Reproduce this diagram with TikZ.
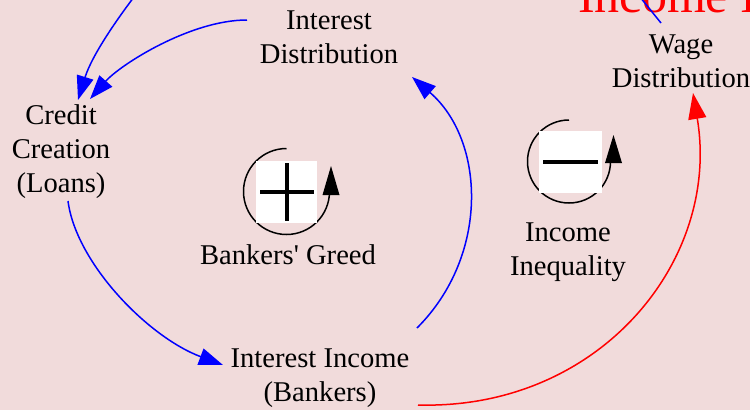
\documentclass[tikz,border=0pt]{standalone}
\usepackage{fontspec}
\setmainfont{Liberation Serif}
\usetikzlibrary{arrows.meta}
\definecolor{cbg}{RGB}{241,219,219}
\definecolor{cblue}{RGB}{0,0,255}
\definecolor{cred}{RGB}{255,0,0}
\tikzset{cld/.style={x=1pt,y=-1pt},
  var/.style={font=\fontsize{28.6}{34}\selectfont,align=center,inner sep=2pt},
  lnk/.style={cblue,line width=1.5pt,-{Triangle[length=24pt,width=17pt]}},
  loopsym/.style={line width=1.5pt}}

\begin{document}
\begin{tikzpicture}[cld]
    \useasboundingbox (0,0) rectangle (750,410);
    \clip (0,0) rectangle (750,410);
    \fill[cbg] (0,0) rectangle (750,410); % background
    \node[cred,font=\fontsize{50}{58}\selectfont,anchor=base west,inner sep=0pt] (title) at (578,12) {Income I}; % cut-off title
    \node[var] (idist) at (329,37.5) {Interest\\Distribution};
    \node[var] (credit) at (61,152) {Credit\\Creation\\(Loans)};
    \node[var] (greed) at (288,255) {Bankers\textquotesingle{} Greed};
    \node[var] (iincome) at (320,378) {Interest Income\\(Bankers)};
    \node[var] (wage) at (681,61) {Wage\\Distribution};
    \node[var] (ineq) at (568,252) {Income\\Inequality};
    \coordinate (top1) at (134,-3); % links leaving the picture
    \coordinate (top2) at (640,-3);
    \draw[lnk] ([shift={(-82,-17.5)}]idist.center) .. controls +(-57,0) and +(30,-34) .. ([shift={(29,-53)}]credit.center);
    \draw[lnk] (top1) .. controls +(-16,21) and +(14,-45) .. ([shift={(17,-52)}]credit.center);
    \draw[lnk] ([shift={(7,49)}]credit.center) .. controls +(8,62) and +(-75,-28) .. ([shift={(-97,-13)}]iincome.center);
    \draw[lnk] ([shift={(97,-50)}]iincome.center) .. controls +(73,-73) and +(73,63) .. ([shift={(83,39.5)}]idist.center);
    \draw[lnk,cred,-{Triangle[length=26pt,width=18pt]}] ([shift={(98,27)}]iincome.center) .. controls +(182,5) and +(28,167) .. ([shift={(12,32)}]wage.center);
    \draw[cblue,line width=1.5pt] ([shift={(-20,-38)}]wage.center) -- (top2);
    % plus loop
    \draw[loopsym] (286.5,191.5) ++(270:43) arc[start angle=270,end angle=0,radius=43];
    \fill (322.5,195) -- (339.5,195) -- (331,166) -- cycle;
    \fill[white] (256,161) rectangle (317,223);
    \draw[line width=3.5pt] (260,192) -- (314,192) (287,163) -- (287,221);
    % minus loop
    \draw[loopsym] (569,161.5) ++(270:41.5) arc[start angle=270,end angle=0,radius=41.5];
    \fill (605,163) -- (622,163) -- (613.5,135) -- cycle;
    \fill[white] (539,131) rectangle (602,193);
    \draw[line width=4pt] (543,162) -- (598,162);
\end{tikzpicture}
\end{document}
